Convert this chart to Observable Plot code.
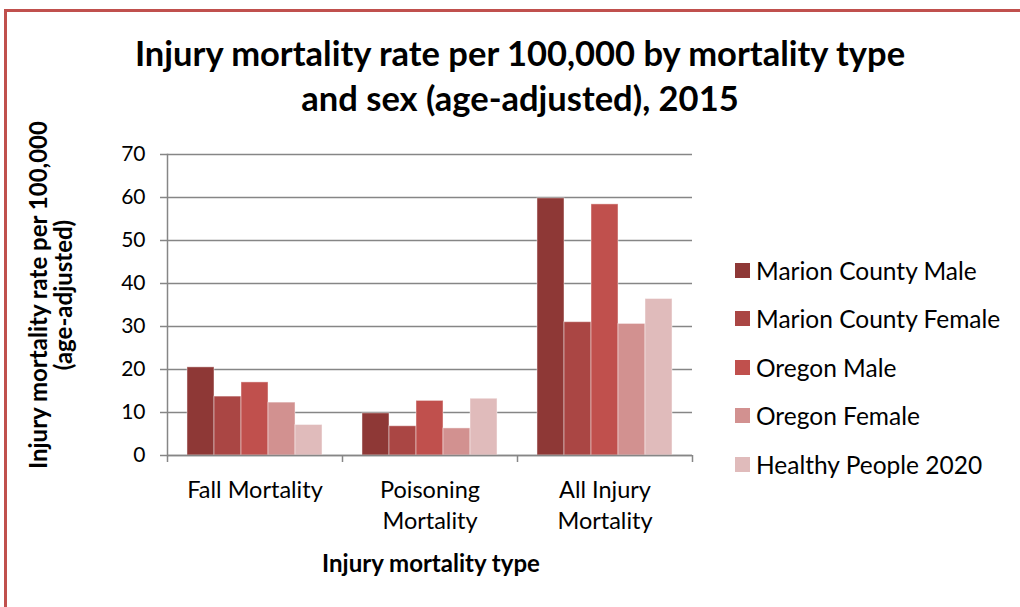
<!DOCTYPE html>
<html><head><meta charset="utf-8">
<script src="https://cdn.jsdelivr.net/npm/d3@7"></script>
<script src="https://cdn.jsdelivr.net/npm/@observablehq/plot@0.6"></script>
<style>
body{margin:0;background:#fff;font-family:Lato,"Open Sans",sans-serif;color:#000;}
#wrap{position:relative;width:1020px;height:607px;overflow:hidden;background:#fff;}
#border{position:absolute;left:4px;top:9px;width:1100px;height:700px;border-top:3px solid #C0504D;border-left:3px solid #C0504D;box-sizing:border-box;}
#chart{position:absolute;left:0;top:0;}
#title{position:absolute;left:20px;width:1000px;top:30px;text-align:center;font-weight:bold;font-size:34.5px;line-height:45px;}
#ylabel{position:absolute;left:50px;top:295px;width:420px;transform:translate(-50%,-50%) rotate(-90deg);text-align:center;font-weight:bold;font-size:24px;line-height:25px;}
#xlabel{position:absolute;left:431px;top:548px;transform:translateX(-50%);font-weight:bold;font-size:24px;white-space:nowrap;}
#legend{position:absolute;left:735px;top:246px;}
.item{display:flex;align-items:center;height:48.5px;font-size:24.5px;white-space:nowrap;}
.sw{width:15px;height:15px;margin-right:6px;}
</style>
</head><body>
<div id="wrap">
  <div id="border"></div>
  <div id="chart"></div>
  <div id="title">Injury mortality rate per 100,000 by mortality type<br>and sex (age-adjusted), 2015</div>
  <div id="ylabel">Injury mortality rate per 100,000<br>(age-adjusted)</div>
  <div id="xlabel">Injury mortality type</div>
  <div id="legend"></div>
</div>
<script>
const categories = ["Fall Mortality", "Poisoning Mortality", "All Injury Mortality"];
const categoryLabels = ["Fall Mortality", "Poisoning\nMortality", "All Injury\nMortality"];
const seriesNames = ["Marion County Male", "Marion County Female", "Oregon Male", "Oregon Female", "Healthy People 2020"];
const seriesColors = ["#8E3836", "#AA4644", "#C0504D", "#D29190", "#E0BBBB"];
const marionCountyMale = [20.5, 9.8, 59.8];
const marionCountyFemale = [13.7, 6.8, 31.0];
const oregonMale = [17.0, 12.7, 58.4];
const oregonFemale = [12.3, 6.3, 30.6];
const healthyPeople2020 = [7.1, 13.2, 36.4];
const yTicks = [0, 10, 20, 30, 40, 50, 60, 70];

const seriesValues = [marionCountyMale, marionCountyFemale, oregonMale, oregonFemale, healthyPeople2020];
const table = [];
categories.forEach((c, i) => seriesNames.forEach((s, j) => table.push({category: c, series: s, value: seriesValues[j][i]})));
const labelOf = new Map(categories.map((c, i) => [c, categoryLabels[i]]));

const W = 1020, H = 607, mL = 167, mR = 328, mT = 154, mB = 152;
const half = (W - mL - mR) / categories.length / 2;
const gray = "#868686";

const chart = Plot.plot({
  width: W, height: H,
  marginLeft: mL, marginRight: mR, marginTop: mT, marginBottom: mB,
  style: {fontFamily: "Lato, 'Open Sans', sans-serif", background: "transparent", color: "#000"},
  fx: {domain: categories, padding: 0, round: false, label: null},
  x: {domain: seriesNames, paddingInner: 0, paddingOuter: 0.74, round: false, axis: null},
  y: {domain: [0, 70], label: null},
  color: {domain: seriesNames, range: seriesColors},
  marks: [
    Plot.gridY(yTicks, {stroke: gray, strokeOpacity: 1, strokeWidth: 1.5}),
    Plot.barY(table, {fx: "category", x: "series", y: "value", fill: "series", stroke: "#fff", strokeOpacity: 0.45, strokeWidth: 1}),
    Plot.ruleY([0], {stroke: gray, strokeWidth: 1.5}),
    Plot.frame({anchor: "left", facet: "super", stroke: gray, strokeWidth: 1.5}),
    Plot.axisY({ticks: yTicks, text: null, tickSize: 7, stroke: gray, strokeWidth: 1.5, label: null}),
    Plot.axisY({ticks: yTicks, tickSize: 0, tickPadding: 22, fontSize: 21, fill: "#000", label: null}),
    Plot.axisFx({anchor: "bottom", text: null, tickSize: 7, dx: -half, stroke: gray, strokeWidth: 1.5, label: null}),
    Plot.axisFx({anchor: "bottom", ticks: [categories[categories.length - 1]], text: null, tickSize: 7, dx: half, stroke: gray, strokeWidth: 1.5, label: null}),
    Plot.axisFx({anchor: "bottom", tickSize: 0, tickPadding: 21, fontSize: 23.5, fill: "#000", lineHeight: 1.3, tickFormat: d => labelOf.get(d), label: null})
  ]
});
document.getElementById("chart").appendChild(chart);

const legend = document.getElementById("legend");
seriesNames.forEach((s, i) => {
  const row = document.createElement("div");
  row.className = "item";
  row.innerHTML = `<span class="sw" style="background:${seriesColors[i]}"></span><span>${s}</span>`;
  legend.appendChild(row);
});
</script>
</body></html>
